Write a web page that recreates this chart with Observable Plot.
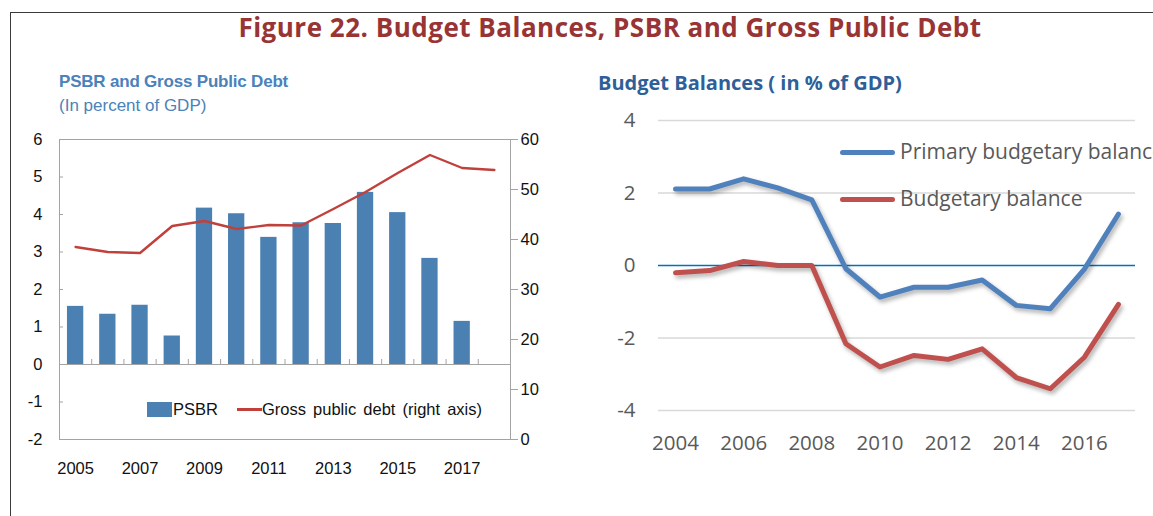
<!DOCTYPE html>
<html>
<head>
<meta charset="utf-8">
<script src="https://cdn.jsdelivr.net/npm/d3@7"></script>
<script src="https://cdn.jsdelivr.net/npm/@observablehq/plot@0.6"></script>
<style>
  html, body { margin: 0; padding: 0; width: 1153px; height: 516px; overflow: hidden; background: #fff; }
  #page { position: relative; width: 1153px; height: 516px; overflow: hidden; }
  .abs { position: absolute; white-space: nowrap; }
  #frame { left: 10px; top: 12px; width: 1200px; height: 600px; border-top: 1px solid #3a3a3a; border-left: 1px solid #3a3a3a; }
  #title { left: 0; width: 1220px; top: 13.8px; text-align: center; font: bold 26px "Open Sans"; line-height: 26px; color: #983434; letter-spacing: 0.5px; }
  #lsub1 { left: 59px; top: 72.5px; font: bold 17px "Liberation Sans"; line-height: 17px; color: #4a82b9; letter-spacing: -0.2px; }
  #lsub2 { left: 59px; top: 96.5px; font: 17px "Liberation Sans"; line-height: 17px; color: #4a82b9; }
  #rtitle { left: 598px; top: 73px; font: bold 20px "Open Sans"; line-height: 20px; color: #2f5f98; }
  .lleg { font: 16.5px "Liberation Sans"; line-height: 16.5px; color: #111; top: 401px; }
  .rleg { font: 21px "Open Sans"; line-height: 21px; color: #595959; }
  .chart { position: absolute; top: 0; }
  .right-chart g[aria-label="line"] path { filter: drop-shadow(2px 3px 2px rgba(0,0,0,0.3)); }
</style>
</head>
<body>
<div id="page">
  <div id="frame" class="abs"></div>
  <div id="left" class="chart" style="left:0px"></div>
  <div id="right" class="chart right-chart" style="left:580px"></div>
  <div id="title" class="abs">Figure 22. Budget Balances, PSBR and Gross Public Debt</div>
  <div id="lsub1" class="abs">PSBR and Gross Public Debt</div>
  <div id="lsub2" class="abs">(In percent of GDP)</div>
  <div id="rtitle" class="abs">Budget Balances ( in % of GDP)</div>

  <div class="abs" style="left:147px; top:402px; width:25px; height:15px; background:#4b80b2"></div>
  <div class="abs lleg" style="left:173px">PSBR</div>
  <div class="abs" style="left:237px; top:408px; width:25px; height:2.5px; background:#c0403c"></div>
  <div class="abs lleg" style="left:262px; word-spacing:2.5px">Gross public debt (right axis)</div>

  <div class="abs" style="left:840px; top:150.2px; width:55px; height:5px; border-radius:3px; background:#4f81bd"></div>
  <div class="abs rleg" style="left:900px; top:141px">Primary budgetary balance</div>
  <div class="abs" style="left:840px; top:196.5px; width:55px; height:5px; border-radius:3px; background:#c0504d"></div>
  <div class="abs rleg" style="left:900px; top:187.5px">Budgetary balance</div>
</div>
<script>
// ---------- Left chart data ----------
const years = [2005, 2006, 2007, 2008, 2009, 2010, 2011, 2012, 2013, 2014, 2015, 2016, 2017, 2018];
const psbr = [1.55, 1.34, 1.58, 0.76, 4.17, 4.02, 3.39, 3.78, 3.76, 4.59, 4.05, 2.83, 1.15, null];
const grossDebt = [38.5, 37.5, 37.3, 42.7, 43.7, 42.1, 42.9, 42.8, 46.1, 49.5, 53.3, 56.9, 54.3, 53.9];
const psbrTicks = [-2, -1, 0, 1, 2, 3, 4, 5, 6];
const debtTicks = [0, 10, 20, 30, 40, 50, 60];
const leftLabelYears = [2005, 2007, 2009, 2011, 2013, 2015, 2017];

// ---------- Right chart data ----------
const balYears = [2004, 2005, 2006, 2007, 2008, 2009, 2010, 2011, 2012, 2013, 2014, 2015, 2016, 2017];
const primaryBalance = [2.11, 2.11, 2.39, 2.14, 1.81, -0.09, -0.87, -0.6, -0.6, -0.4, -1.1, -1.19, -0.1, 1.42];
const budgetBalance = [-0.2, -0.14, 0.11, 0.0, 0.0, -2.16, -2.8, -2.48, -2.59, -2.3, -3.09, -3.4, -2.53, -1.07];
const balTicks = [-4, -2, 0, 2, 4];
const balLabelYears = [2004, 2006, 2008, 2010, 2012, 2014, 2016];

// dual axis mapping: debt (0..60) onto PSBR scale (-2..6)
const psbrDomain = [psbrTicks[0], psbrTicks[psbrTicks.length - 1]];
const debtDomain = [debtTicks[0], debtTicks[debtTicks.length - 1]];
const toLeft = d => psbrDomain[0] + (d - debtDomain[0]) * (psbrDomain[1] - psbrDomain[0]) / (debtDomain[1] - debtDomain[0]);
const fromLeft = v => debtDomain[0] + (v - psbrDomain[0]) * (debtDomain[1] - debtDomain[0]) / (psbrDomain[1] - psbrDomain[0]);

const leftData = years.map((y, i) => ({year: y, psbr: psbr[i], debt: grossDebt[i]}));
const barData = leftData.filter(d => d.psbr != null);
const xMin = years[0] - 0.5, xMax = years[years.length - 1] + 0.5;
const boundaries = years.slice(0, -1).map(y => y + 0.5);
const gray = "#a3a3a3";

const left = Plot.plot({
  width: 580, height: 500,
  marginLeft: 59, marginRight: 70, marginTop: 139, marginBottom: 61,
  style: {background: "transparent", overflow: "visible", fontFamily: "Liberation Sans", fontSize: "16.5px", color: "#111"},
  x: {domain: [xMin, xMax], label: null},
  y: {domain: psbrDomain, label: null},
  marks: [
    Plot.frame({stroke: gray}),
    Plot.ruleY(psbrTicks, {x1: xMin, x2: xMin, insetRight: -4, stroke: gray}),
    Plot.rect(barData, {x1: d => d.year - 0.253, x2: d => d.year + 0.253, y1: 0, y2: "psbr", fill: "#4b80b2"}),
    Plot.ruleY([0], {stroke: gray}),
    Plot.ruleX(boundaries, {y1: 0, y2: 0, insetTop: -5, stroke: gray}),
    Plot.line(leftData, {x: "year", y: d => toLeft(d.debt), stroke: "#c0403c", strokeWidth: 2.4}),
    Plot.axisY(psbrTicks, {anchor: "left", tickSize: 0, tickPadding: 17, label: null, tickFormat: d => String(d)}),
    Plot.axisY(debtTicks.map(toLeft), {anchor: "right", tickSize: 7, tickPadding: 3, stroke: gray, label: null, tickFormat: v => String(Math.round(fromLeft(v)))}),
    Plot.axisX(leftLabelYears, {anchor: "bottom", tickSize: 0, tickPadding: 23, label: null, tickFormat: d => String(d)})
  ]
});
document.getElementById("left").appendChild(left);

// ---------- Right chart ----------
const rightData = [
  ...balYears.map((y, i) => ({year: y, value: primaryBalance[i], series: "Primary budgetary balance"})),
  ...balYears.map((y, i) => ({year: y, value: budgetBalance[i], series: "Budgetary balance"}))
];
const right = Plot.plot({
  width: 573, height: 500,
  marginLeft: 78, marginRight: 18, marginTop: 120, marginBottom: 90,
  style: {background: "transparent", overflow: "visible", fontFamily: "Open Sans", fontSize: "20.5px", color: "#595959"},
  x: {domain: [balYears[0] - 0.5, balYears[balYears.length - 1] + 0.5], label: null},
  y: {domain: [balTicks[0], balTicks[balTicks.length - 1]], label: null},
  marks: [
    Plot.gridY(balTicks.filter(t => t !== 0), {stroke: "#d9d9d9", strokeOpacity: 1, strokeWidth: 1.5}),
    Plot.ruleY([0], {stroke: "#0070c0", strokeWidth: 1.6}),
    Plot.line(rightData.filter(d => d.series === "Budgetary balance"), {x: "year", y: "value", stroke: "#c0504d", strokeWidth: 5, strokeLinecap: "round", strokeLinejoin: "round"}),
    Plot.line(rightData.filter(d => d.series === "Primary budgetary balance"), {x: "year", y: "value", stroke: "#4f81bd", strokeWidth: 5, strokeLinecap: "round", strokeLinejoin: "round"}),
    Plot.axisY(balTicks, {anchor: "left", tickSize: 0, tickPadding: 23, label: null, tickFormat: d => String(d)}),
    Plot.axisX(balLabelYears, {anchor: "bottom", tickSize: 0, tickPadding: 25, label: null, tickFormat: d => String(d)})
  ]
});
document.getElementById("right").appendChild(right);
</script>
</body>
</html>
